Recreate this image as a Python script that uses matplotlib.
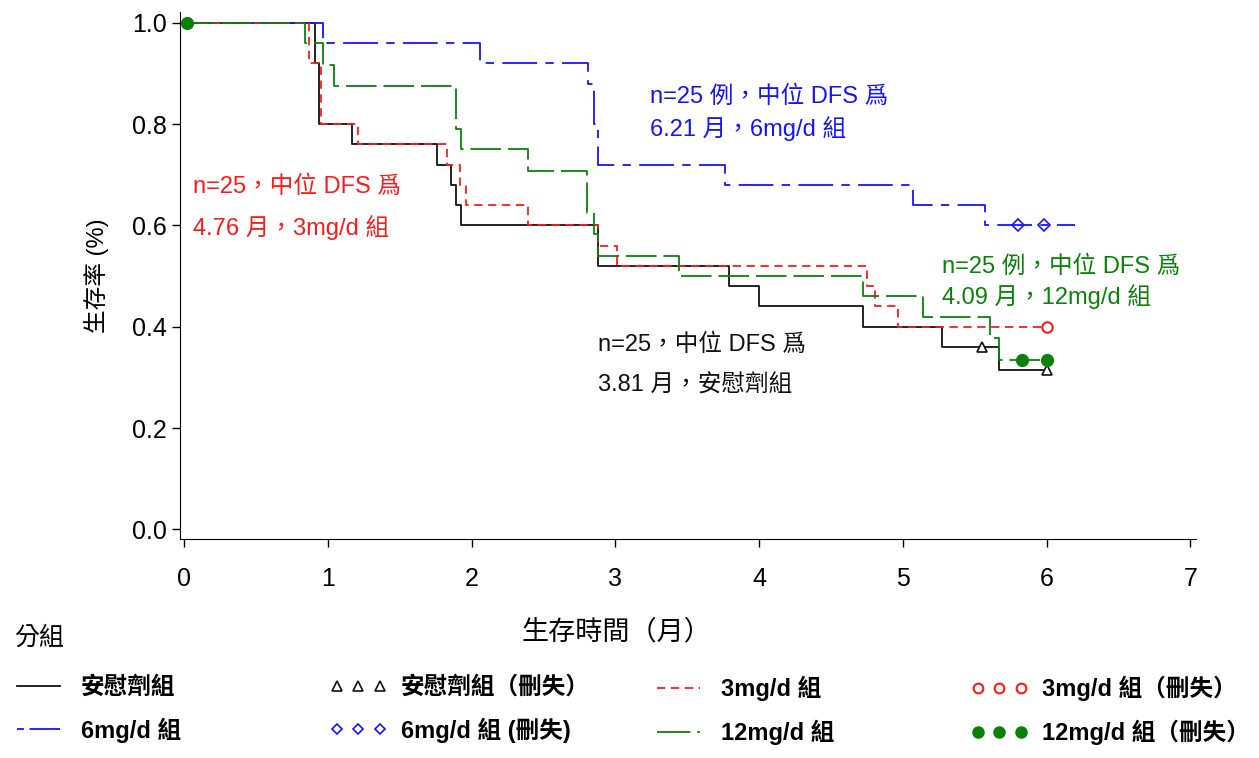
import matplotlib
matplotlib.use('Agg')
import matplotlib.pyplot as plt
from matplotlib.lines import Line2D

plt.rcParams['font.family'] = ['Liberation Sans', 'Noto Sans CJK TC', 'DejaVu Sans']
plt.rcParams['lines.scale_dashes'] = False

# step curves (time in months, survival proportion)
t_placebo = [0, 0.91, 0.94, 1.17, 1.76, 1.86, 1.89, 1.93, 2.88, 3.79, 4.0, 4.72, 5.27, 5.67, 6.0]
s_placebo = [1.0, 0.92, 0.80, 0.76, 0.72, 0.68, 0.64, 0.60, 0.52, 0.48, 0.44, 0.40, 0.36, 0.315, 0.315]

t_3mg = [0, 0.87, 0.95, 1.21, 1.83, 1.92, 1.96, 2.39, 2.88, 3.01, 4.75, 4.81, 4.97, 6.0]
s_3mg = [1.0, 0.92, 0.80, 0.76, 0.72, 0.68, 0.64, 0.60, 0.56, 0.52, 0.48, 0.44, 0.40, 0.40]

t_6mg = [0, 0.97, 2.06, 2.81, 2.85, 2.88, 3.76, 5.07, 5.57, 6.2]
s_6mg = [1.0, 0.96, 0.92, 0.88, 0.80, 0.72, 0.68, 0.64, 0.60, 0.60]

t_12mg = [0, 0.84, 0.97, 1.04, 1.895, 1.93, 2.39, 2.80, 2.85, 2.88, 3.44, 4.72, 5.14, 5.61, 5.67, 6.0]
s_12mg = [1.0, 0.96, 0.917, 0.875, 0.79, 0.75, 0.708, 0.625, 0.583, 0.54, 0.50, 0.46, 0.42, 0.377, 0.335, 0.335]

# censored points
cx_placebo, cy_placebo = [5.55, 6.0], [0.36, 0.315]
cx_6mg, cy_6mg = [5.80, 5.98], [0.60, 0.60]
cx_3mg, cy_3mg = [6.0], [0.40]
cx_12mg, cy_12mg = [0.02, 5.83, 6.0], [1.0, 0.335, 0.335]

yticks = [0.0, 0.2, 0.4, 0.6, 0.8, 1.0]
xticks = [0, 1, 2, 3, 4, 5, 6, 7]

c_black = '#111111'
c_blue = '#1414ff'
c_red = '#ff1a1a'
c_green = '#0a820a'

ls_black = '-'
ls_red = (0, (6, 4))
ls_blue = (0, (25, 6, 6, 6))
ls_green = (0, (22, 5))

fig = plt.figure(figsize=(12.59, 7.58), dpi=100)
ax = fig.add_axes([0.143, 0.2885, 0.807, 0.6955])

lw = 1.3
ax.step(t_placebo, s_placebo, where='post', color=c_black, lw=lw, linestyle=ls_black)
ax.step(t_6mg, s_6mg, where='post', color=c_blue, lw=lw, linestyle=ls_blue)
ax.step(t_3mg, s_3mg, where='post', color=c_red, lw=lw, linestyle=ls_red)
ax.step(t_12mg, s_12mg, where='post', color=c_green, lw=lw, linestyle=ls_green)

ax.plot(cx_placebo, cy_placebo, linestyle='none', marker='^', ms=7, mfc='white', mec=c_black, mew=1.2)
ax.plot(cx_6mg, cy_6mg, linestyle='none', marker='D', ms=6.5, mfc='none', mec=c_blue, mew=1.2)
ax.plot(cx_3mg, cy_3mg, linestyle='none', marker='o', ms=7.5, mfc='white', mec=c_red, mew=1.5)
ax.plot(cx_12mg, cy_12mg, linestyle='none', marker='o', ms=8.5, mfc=c_green, mec=c_green)

ax.set_xlim(-0.028, 7.04)
ax.set_ylim(-0.0197, 1.021)
ax.set_xticks(xticks)
ax.set_yticks(yticks)
ax.set_yticklabels(['%.1f' % v for v in yticks])
ax.tick_params(labelsize=18, length=6, width=1, direction='out')
ax.tick_params(axis='x', pad=14)
for s in ['top', 'right']:
    ax.spines[s].set_visible(False)

ax.set_ylabel('生存率 (%)', fontsize=17)
ax.yaxis.set_label_coords(-0.07, 0.5)
ax.set_xlabel('生存時間（月）', fontsize=19.5)
ax.xaxis.set_label_coords(0.43, -0.152)

fs = 17
ax.text(0.063, 0.676, 'n=25，中位 DFS 爲', color=c_red, fontsize=fs, va='center')
ax.text(0.063, 0.595, '4.76 月，3mg/d 組', color=c_red, fontsize=fs, va='center')
ax.text(3.24, 0.853, 'n=25 例，中位 DFS 爲', color=c_blue, fontsize=fs, va='center')
ax.text(3.24, 0.792, '6.21 月，6mg/d 組', color=c_blue, fontsize=fs, va='center')
ax.text(5.27, 0.518, 'n=25 例，中位 DFS 爲', color=c_green, fontsize=fs, va='center')
ax.text(5.27, 0.459, '4.09 月，12mg/d 組', color=c_green, fontsize=fs, va='center')
ax.text(2.88, 0.364, 'n=25，中位 DFS 爲', color=c_black, fontsize=fs, va='center')
ax.text(2.88, 0.285, '3.81 月，安慰劑組', color=c_black, fontsize=fs, va='center')

# legend, built as four columns
fig.text(14 / 1259, 1 - 638 / 758, '分組', fontsize=18, va='center')

h_placebo = Line2D([], [], color=c_black, lw=1.3, linestyle=ls_black)
h_6mg = Line2D([], [], color=c_blue, lw=1.3, linestyle=(0, (5, 4, 22, 4)))
h_3mg = Line2D([], [], color=c_red, lw=1.3, linestyle=ls_red)
h_12mg = Line2D([], [], color=c_green, lw=1.3, linestyle=(0, (24, 5)))
hc_placebo = Line2D([], [], linestyle='none', marker='^', ms=6.5, mfc='white', mec=c_black, mew=1.2)
hc_6mg = Line2D([], [], linestyle='none', marker='D', ms=5.5, mfc='none', mec=c_blue, mew=1.2)
hc_3mg = Line2D([], [], linestyle='none', marker='o', ms=7, mfc='white', mec=c_red, mew=1.5)
hc_12mg = Line2D([], [], linestyle='none', marker='o', ms=8, mfc=c_green, mec=c_green)

columns = [
    ([h_placebo, h_6mg], ['安慰劑組', '6mg/d 組'], 10),
    ([hc_placebo, hc_6mg], ['安慰劑組（刪失）', '6mg/d 組 (刪失)'], 330),
    ([h_3mg, h_12mg], ['3mg/d 組', '12mg/d 組'], 650),
    ([hc_3mg, hc_12mg], ['3mg/d 組（刪失）', '12mg/d 組（刪失）'], 971),
]
for handles, labels, xpix in columns:
    leg = fig.legend(handles, labels, loc='upper left',
                     bbox_to_anchor=(xpix / 1259, 1 - 676 / 758),
                     frameon=False, borderpad=0, borderaxespad=0,
                     handlelength=2.4, handletextpad=0.6, labelspacing=0.78,
                     numpoints=3, prop={'size': 17, 'weight': 'bold'})

fig.savefig('out.png', dpi=100)
